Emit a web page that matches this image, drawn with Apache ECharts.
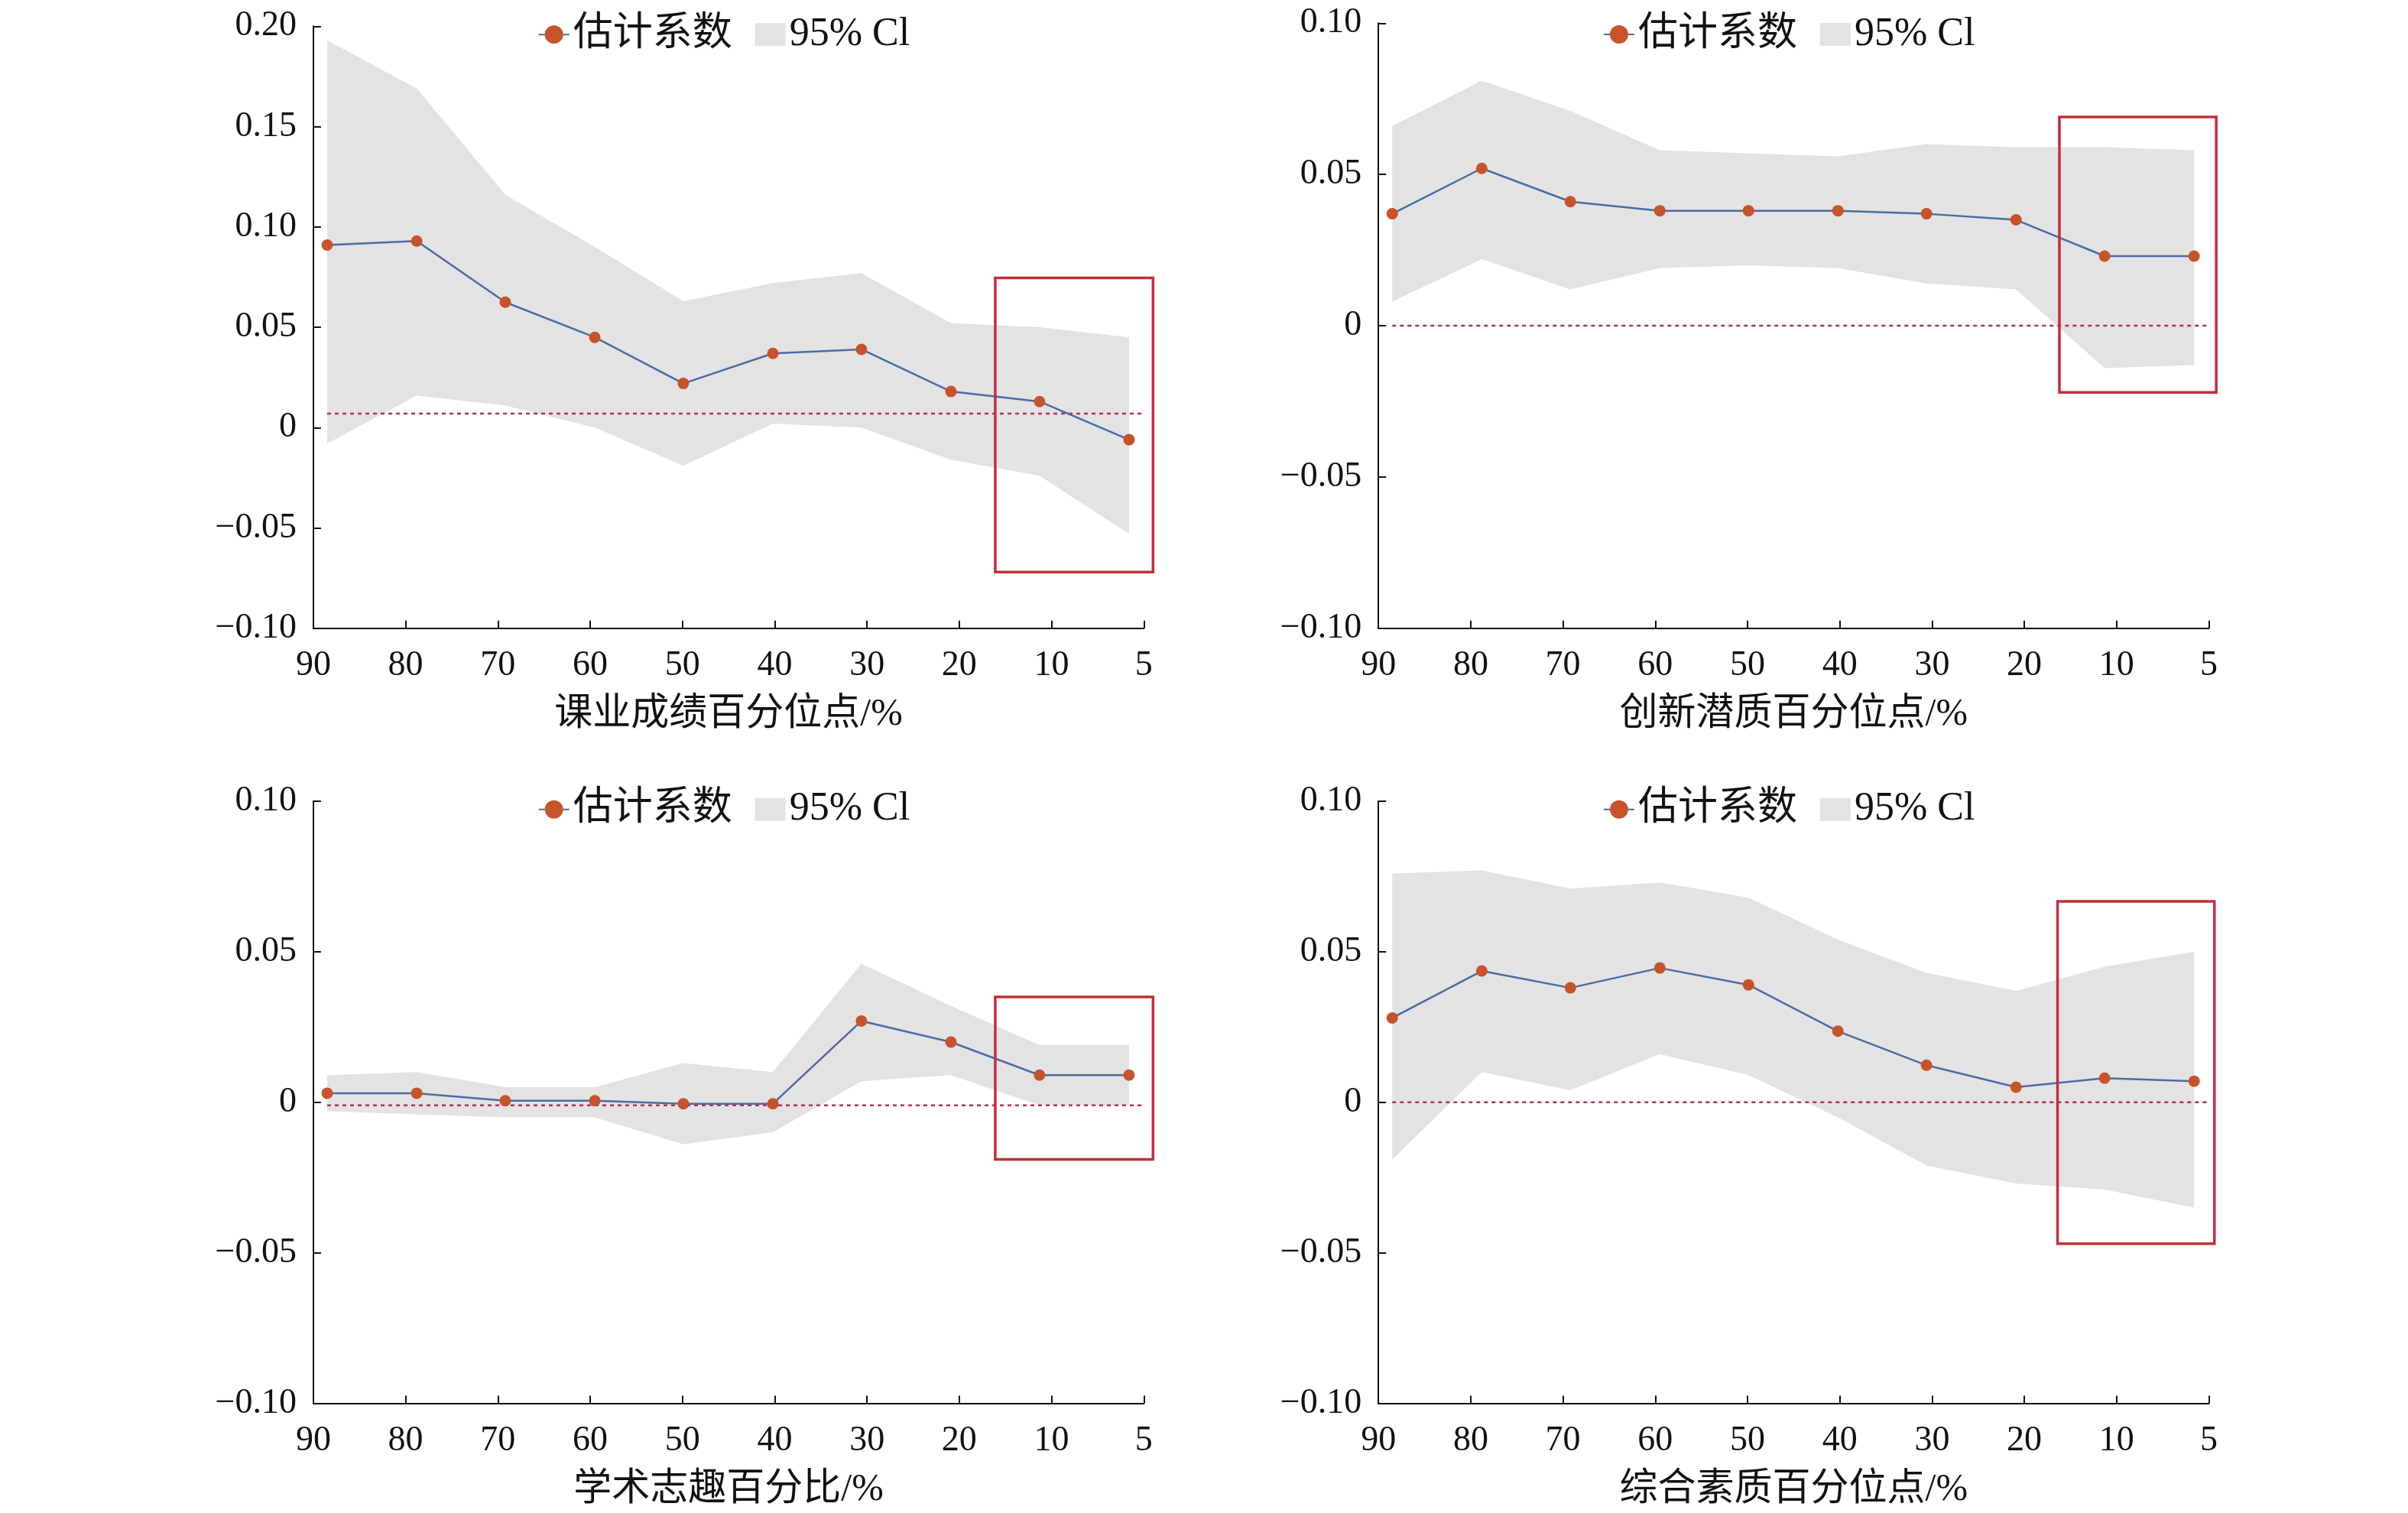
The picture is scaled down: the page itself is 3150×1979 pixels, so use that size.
<!DOCTYPE html>
<html>
<head>
<meta charset="utf-8">
<script src="https://cdn.jsdelivr.net/npm/echarts@6/dist/echarts.min.js"></script>
<style>html,body{margin:0;padding:0;background:#fff}#c{width:3150px;height:1979px}</style>
</head>
<body>
<div id="c"></div>
<script>
var S = 3150 / 1560;
var FONT = '"Liberation Serif","Noto Sans CJK SC",serif';

var tickLabels = ['90', '80', '70', '60', '50', '40', '30', '20', '10', '5'];
// x position of each estimate, in tick-index units
var pointPos = [0.15, 1.12, 2.08, 3.05, 4.01, 4.98, 5.94, 6.91, 7.87, 8.84];

var titles = ['课业成绩百分位点/%', '创新潜质百分位点/%', '学术志趣百分比/%', '综合素质百分位点/%'];
var yMax = [0.20, 0.10, 0.10, 0.10];

var est1 = [0.091, 0.093, 0.0625, 0.045, 0.022, 0.037, 0.039, 0.018, 0.013, -0.006];
var up1 = [0.193, 0.169, 0.116, 0.090, 0.063, 0.072, 0.077, 0.052, 0.050, 0.045];
var lo1 = [-0.008, 0.016, 0.011, 0.000, -0.019, 0.002, 0.000, -0.016, -0.024, -0.053];

var est2 = [0.037, 0.052, 0.041, 0.038, 0.038, 0.038, 0.037, 0.035, 0.023, 0.023];
var up2 = [0.066, 0.081, 0.071, 0.058, 0.057, 0.056, 0.060, 0.059, 0.059, 0.058];
var lo2 = [0.008, 0.022, 0.012, 0.019, 0.020, 0.019, 0.014, 0.012, -0.014, -0.013];

var est3 = [0.003, 0.003, 0.0005, 0.0005, -0.0005, -0.0005, 0.027, 0.020, 0.009, 0.009];
var up3 = [0.009, 0.010, 0.005, 0.005, 0.013, 0.010, 0.046, 0.032, 0.019, 0.019];
var lo3 = [-0.003, -0.004, -0.005, -0.005, -0.014, -0.010, 0.007, 0.009, -0.001, -0.001];

var est4 = [0.028, 0.0436, 0.038, 0.0446, 0.039, 0.0236, 0.0123, 0.005, 0.008, 0.007];
var up4 = [0.076, 0.077, 0.071, 0.073, 0.068, 0.054, 0.043, 0.037, 0.045, 0.050];
var lo4 = [-0.019, 0.010, 0.004, 0.016, 0.009, -0.005, -0.021, -0.027, -0.029, -0.035];

var refLine = [0.007, 0, -0.001, 0];
// highlight boxes: [x0, y0, x1, y1] in data units
var boxes = [[7.39, 0.0746, 9.1, -0.072], [7.38, 0.069, 9.08, -0.022],
             [7.39, 0.035, 9.1, -0.019], [7.36, 0.0667, 9.06, -0.047]];

var ests = [est1, est2, est3, est4], ups = [up1, up2, up3, up4], los = [lo1, lo2, lo3, lo4];
var gridPos = [[203, 17], [893, 15], [203, 519], [893, 519]];
var gridH = [390, 392, 390, 390];

function pairs(vals) { return vals.map(function (v, i) { return [pointPos[i], v]; }); }

function bandRenderer(up, lo) {
    return function (params, api) {
        if (params.dataIndex !== 0) return null;
        var pts = [];
        for (var i = 0; i < up.length; i++) pts.push(api.coord([pointPos[i], up[i]]));
        for (var j = lo.length - 1; j >= 0; j--) pts.push(api.coord([pointPos[j], lo[j]]));
        return { type: 'polygon', shape: { points: pts }, style: { fill: '#e3e3e3' } };
    };
}

var grids = [], xAxes = [], yAxes = [], series = [], legends = [];
for (var k = 0; k < 4; k++) {
    grids.push({ left: gridPos[k][0] * S, top: gridPos[k][1] * S, width: 538 * S, height: gridH[k] * S });
    xAxes.push({
        gridIndex: k, type: 'value', min: 0, max: 9, interval: 1,
        name: titles[k], nameLocation: 'middle', nameGap: 88,
        nameTextStyle: { fontFamily: FONT, fontSize: 50, color: '#111' },
        axisLine: { onZero: false, lineStyle: { color: '#111', width: 2 } },
        axisTick: { inside: true, length: 10, lineStyle: { color: '#111', width: 2 } },
        axisLabel: { margin: 26, fontFamily: FONT, fontSize: 46, color: '#111',
            formatter: function (v) { return tickLabels[Math.round(v)]; } },
        splitLine: { show: false }
    });
    yAxes.push({
        gridIndex: k, type: 'value', min: -0.10, max: yMax[k], interval: 0.05,
        axisLine: { show: true, onZero: false, lineStyle: { color: '#111', width: 2 } },
        axisTick: { show: true, inside: true, length: 10, lineStyle: { color: '#111', width: 2 } },
        axisLabel: { margin: 22, fontFamily: FONT, fontSize: 46, color: '#111',
            formatter: function (v) {
                if (Math.abs(v) < 1e-9) return '0';
                return (v < 0 ? '\u22120' : '0') + '.' + Math.round(Math.abs(v) * 100).toString().padStart(2, '0');
            } },
        splitLine: { show: false }
    });
    series.push({
        name: '95% Cl', type: 'custom', xAxisIndex: k, yAxisIndex: k,
        data: pairs(ups[k]), renderItem: bandRenderer(ups[k], los[k]),
        itemStyle: { color: '#e3e3e3' }, silent: true, z: 1
    });
    series.push({
        type: 'line', xAxisIndex: k, yAxisIndex: k, data: [[pointPos[0], refLine[k]], [9, refLine[k]]],
        symbol: 'none', lineStyle: { color: '#b0305a', type: [5, 5], width: 2.5 }, z: 2
    });
    series.push({
        name: '估计系数', type: 'line', xAxisIndex: k, yAxisIndex: k, data: pairs(ests[k]),
        symbol: 'circle', symbolSize: 15,
        lineStyle: { color: '#4a6aa5', width: 2.5 }, itemStyle: { color: '#c8522a' }, z: 3
    });
    legends.push({
        left: (gridPos[k][0] + 143) * S, top: (gridPos[k][1] - 10) * S + (k === 1 ? 4 : 0),
        itemWidth: 40, itemHeight: 30, itemGap: 30,
        textStyle: { fontFamily: FONT, fontSize: 52, color: '#111' },
        data: [{ name: '估计系数' }, { name: '95% Cl', icon: 'rect', itemStyle: { color: '#e3e3e3' } }]
    });
}

var chart = echarts.init(document.getElementById('c'));
chart.setOption({
    animation: false,
    grid: grids, xAxis: xAxes, yAxis: yAxes, series: series, legend: legends
});

var rects = boxes.map(function (b, k) {
    var p0 = chart.convertToPixel({ gridIndex: k }, [b[0], b[1]]);
    var p1 = chart.convertToPixel({ gridIndex: k }, [b[2], b[3]]);
    return {
        type: 'rect', shape: { x: p0[0], y: p0[1], width: p1[0] - p0[0], height: p1[1] - p0[1] },
        style: { fill: 'none', stroke: '#c0303a', lineWidth: 3.5 }, z: 10
    };
});
chart.setOption({ graphic: rects });
</script>
</body>
</html>
